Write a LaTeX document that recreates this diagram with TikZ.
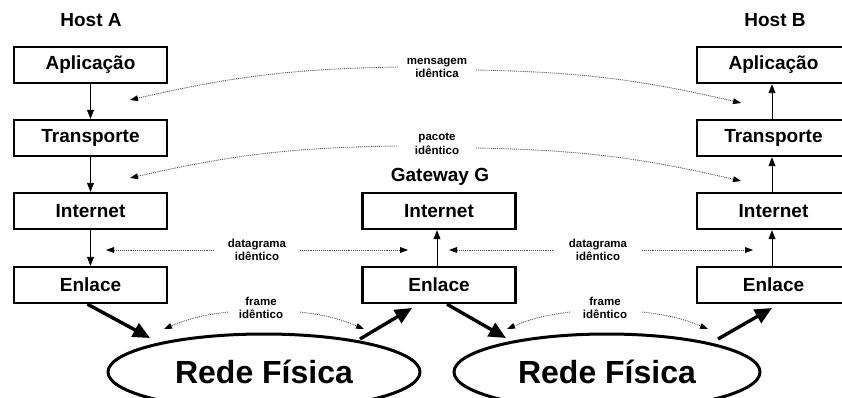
\documentclass[tikz,border=0pt]{standalone}
\usepackage{fontspec}
\setmainfont{Liberation Sans}
\usetikzlibrary{arrows.meta,shapes.geometric}

\tikzset{
  layer/.style={draw, line width=2.4pt, minimum width=153pt, minimum height=36pt,
    inner sep=0pt, font=\bfseries\fontsize{19}{22}\selectfont},
  hostlabel/.style={font=\bfseries\fontsize{19}{22}\selectfont, inner sep=0pt},
  peerlabel/.style={font=\bfseries\fontsize{11.5}{13.5}\selectfont, align=center, inner sep=0pt},
  net/.style={draw, ellipse, line width=3pt, inner sep=0pt,
    font=\bfseries\fontsize{32}{36}\selectfont},
  flow/.style={line width=0.9pt, -{Triangle[length=9pt,width=7pt]}},
  peer/.style={draw=black!70, line width=0.9pt, densely dotted,
    -{Triangle[length=8pt,width=6pt,color=black,line width=0pt]}},
  wire/.style={line width=3.4pt, -{Triangle[length=17pt,width=15pt]}}
}

\begin{document}
\begin{tikzpicture}[x=1pt, y=-1pt]
  \useasboundingbox (0,0) rectangle (842,398);
  \clip (0,0) rectangle (842,398);

  % host and gateway titles
  \node[hostlabel] (hA) at (91,20) {Host A};
  \node[hostlabel] (hB) at (775,20) {Host B};
  \node[hostlabel] (gG) at (440,177) {Gateway G};

  % protocol stack of host A
  \node[layer] (apA) at (90.5,65)  {Aplicação};
  \node[layer] (trA) at (90.5,138) {Transporte};
  \node[layer] (inA) at (90.5,211) {Internet};
  \node[layer] (enA) at (90.5,285) {Enlace};

  % gateway stack
  \node[layer] (inG) at (439,211) {Internet};
  \node[layer] (enG) at (439,285) {Enlace};

  % protocol stack of host B
  \node[layer] (apB) at (773.5,65)  {Aplicação};
  \node[layer] (trB) at (773.5,138) {Transporte};
  \node[layer] (inB) at (773.5,211) {Internet};
  \node[layer] (enB) at (773.5,285) {Enlace};

  % physical networks
  \node[net, minimum width=312pt, minimum height=76pt] (netL) at (264,372) {Rede Física};
  \node[net, minimum width=306pt, minimum height=76pt] (netR) at (607,372) {Rede Física};

  % vertical flow inside the stacks
  \draw[flow] (apA.south) -- (trA.north);
  \draw[flow] (trA.south) -- (inA.north);
  \draw[flow] (inA.south) -- (enA.north);
  \draw[flow] ([xshift=-2pt]enG.north) -- ([xshift=-2pt]inG.south);
  \draw[flow] ([xshift=-1.5pt]enB.north) -- ([xshift=-1.5pt]inB.south);
  \draw[flow] ([xshift=-1.5pt]inB.north) -- ([xshift=-1.5pt]trB.south);
  \draw[flow] ([xshift=-1.5pt]trB.north) -- ([xshift=-1.5pt]apB.south);

  % peer-to-peer labels
  \node[peerlabel] (msg) at (437,68)  {mensagem\\idêntica};
  \node[peerlabel] (pkt) at (437,144) {pacote\\idêntico};
  \node[peerlabel] (dgL) at (257,250) {datagrama\\idêntico};
  \node[peerlabel] (dgR) at (598,250) {datagrama\\idêntico};
  \node[peerlabel] (frL) at (261,308) {frame\\idêntico};
  \node[peerlabel] (frR) at (605,308) {frame\\idêntico};

  % end points of the peer arrows
  \coordinate (msgL) at (398,67);   \coordinate (msgLt) at (130,100);
  \coordinate (msgR) at (476,70);   \coordinate (msgRt) at (741,103);
  \coordinate (pktL) at (397,146);  \coordinate (pktLt) at (130,178);
  \coordinate (pktR) at (476,148);  \coordinate (pktRt) at (741,181);
  \coordinate (dgLa) at (214,250);  \coordinate (dgLat) at (106,250);
  \coordinate (dgLb) at (300,250);  \coordinate (dgLbt) at (408,250);
  \coordinate (dgRa) at (553,250);  \coordinate (dgRat) at (449,250);
  \coordinate (dgRb) at (642,250);  \coordinate (dgRbt) at (753,250);
  \coordinate (frLa) at (228,312);  \coordinate (frLat) at (164,329);
  \coordinate (frLb) at (300,312);  \coordinate (frLbt) at (364,329);
  \coordinate (frRa) at (570,312);  \coordinate (frRat) at (507,329);
  \coordinate (frRb) at (642,312);  \coordinate (frRbt) at (708,329);

  % peer-to-peer arrows
  \draw[peer] (msgL) to[bend right=6] (msgLt);
  \draw[peer] (msgR) to[bend left=6]  (msgRt);
  \draw[peer] (pktL) to[bend right=6] (pktLt);
  \draw[peer] (pktR) to[bend left=6]  (pktRt);
  \draw[peer] (dgLa) -- (dgLat);
  \draw[peer] (dgLb) -- (dgLbt);
  \draw[peer] (dgRa) -- (dgRat);
  \draw[peer] (dgRb) -- (dgRbt);
  \draw[peer] (frLa) to[bend right=8] (frLat);
  \draw[peer] (frLb) to[bend left=8]  (frLbt);
  \draw[peer] (frRa) to[bend right=8] (frRat);
  \draw[peer] (frRb) to[bend left=8]  (frRbt);

  % links between the stacks and the physical networks
  \coordinate (wA1) at (150,338);
  \coordinate (wG0) at (360,339);  \coordinate (wG1) at (412,308);
  \coordinate (wG3) at (506,338);
  \coordinate (wB0) at (718,339);  \coordinate (wB1) at (772,308);
  \draw[wire] ([xshift=-3pt]enA.south) -- (wA1);
  \draw[wire] (wG0) -- (wG1);
  \draw[wire] ([xshift=8pt]enG.south) -- (wG3);
  \draw[wire] (wB0) -- (wB1);
\end{tikzpicture}
\end{document}
